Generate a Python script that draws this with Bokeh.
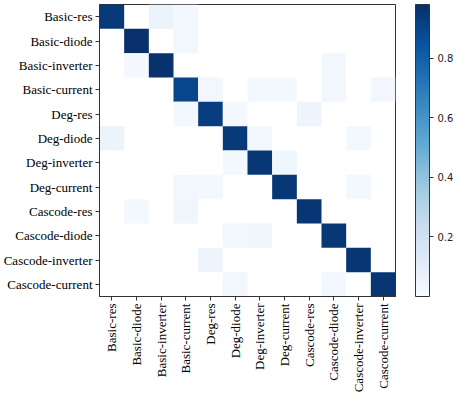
import math
from bokeh.plotting import figure
from bokeh.models import ColumnDataSource, LinearColorMapper, ColorBar, FixedTicker, FactorRange
from bokeh.palettes import Blues256
from bokeh.transform import transform
from bokeh.embed import file_html
from bokeh.resources import INLINE

labels = ["Basic-res", "Basic-diode", "Basic-inverter", "Basic-current",
          "Deg-res", "Deg-diode", "Deg-inverter", "Deg-current",
          "Cascode-res", "Cascode-diode", "Cascode-inverter", "Cascode-current"]

row_basic_res        = [0.94, 0, 0.06, 0.02, 0, 0, 0, 0, 0, 0, 0, 0]
row_basic_diode      = [0, 0.98, 0, 0.03, 0, 0, 0, 0, 0, 0, 0, 0]
row_basic_inverter   = [0, 0.02, 0.97, 0, 0, 0, 0, 0, 0, 0.02, 0, 0]
row_basic_current    = [0, 0, 0, 0.90, 0.03, 0, 0.02, 0.02, 0, 0.03, 0, 0.03]
row_deg_res          = [0, 0, 0, 0.02, 0.93, 0.02, 0, 0, 0.05, 0, 0, 0]
row_deg_diode        = [0.06, 0, 0, 0, 0, 0.94, 0.02, 0, 0, 0, 0.02, 0]
row_deg_inverter     = [0, 0, 0, 0, 0, 0.02, 0.95, 0.04, 0, 0, 0, 0]
row_deg_current      = [0, 0, 0, 0.03, 0.02, 0, 0, 0.95, 0, 0, 0.02, 0]
row_cascode_res      = [0, 0.02, 0, 0.04, 0, 0, 0, 0, 0.96, 0, 0, 0]
row_cascode_diode    = [0, 0, 0, 0, 0, 0.03, 0.04, 0, 0, 0.95, 0, 0]
row_cascode_inverter = [0, 0, 0, 0, 0.05, 0, 0, 0, 0, 0, 0.96, 0]
row_cascode_current  = [0, 0, 0, 0, 0, 0.03, 0, 0, 0, 0.02, 0, 0.96]

matrix = [row_basic_res, row_basic_diode, row_basic_inverter, row_basic_current,
          row_deg_res, row_deg_diode, row_deg_inverter, row_deg_current,
          row_cascode_res, row_cascode_diode, row_cascode_inverter, row_cascode_current]

colorbar_ticks = [0.2, 0.4, 0.6, 0.8]

xs, ys, vals = [], [], []
for i, row in enumerate(matrix):
    for j, v in enumerate(row):
        if v > 0:
            ys.append(labels[i])
            xs.append(labels[j])
            vals.append(v)
src = ColumnDataSource(dict(x=xs, y=ys, v=vals))

vmax = max(vals)
mapper = LinearColorMapper(palette=list(reversed(Blues256)), low=0.0, high=vmax)

FW, FH = 296, 292

p = figure(frame_width=FW, frame_height=FH, output_backend="svg", toolbar_location=None,
           x_range=FactorRange(*labels), y_range=FactorRange(*reversed(labels)),
           min_border_top=4, min_border_right=58, min_border_left=0, min_border_bottom=0)

p.rect(x="x", y="y", width=1, height=1, source=src,
       fill_color=transform("v", mapper), line_color=None)

p.grid.visible = False
p.outline_line_color = "#333333"
p.outline_line_width = 1

for ax in (p.xaxis[0], p.yaxis[0]):
    ax.major_label_text_font = "Liberation Serif"
    ax.major_label_text_font_size = "13px"
    ax.major_label_text_color = "black"
    ax.axis_line_color = "#333333"
    ax.major_tick_line_color = "#333333"
    ax.major_tick_out = 4
    ax.major_tick_in = 0
    ax.minor_tick_line_color = None
    ax.major_label_standoff = 3

p.xaxis.major_label_orientation = math.pi / 2

cb = ColorBar(color_mapper=mapper, ticker=FixedTicker(ticks=colorbar_ticks),
              width=14, height=FH, padding=0, margin=0, location=(FW + 20, 0),
              bar_line_color="#333333", bar_line_width=1,
              major_tick_in=0, major_tick_out=4, major_tick_line_color="#333333",
              major_label_text_font="DejaVu Sans", major_label_text_font_size="10px",
              major_label_text_color="#222222", label_standoff=4,
              background_fill_color=None)
p.add_layout(cb, "center")

open("out.html", "w").write(file_html(p, INLINE))
